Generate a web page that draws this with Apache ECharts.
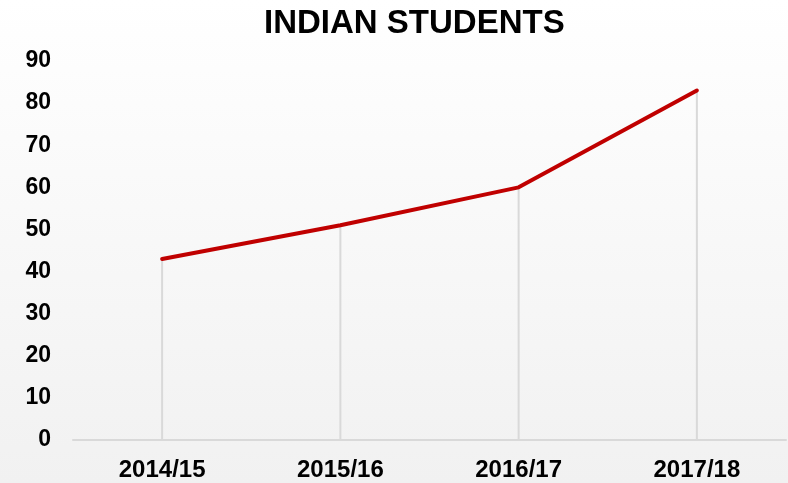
<!DOCTYPE html>
<html>
<head>
<meta charset="utf-8">
<title>Indian Students</title>
<script src="https://cdn.jsdelivr.net/npm/echarts@6/dist/echarts.min.js"></script>
<style>
  html, body { margin: 0; padding: 0; }
  #chart { width: 788px; height: 483px; }
</style>
</head>
<body>
<div id="chart"></div>
<script>
var years = ['2014/15', '2015/16', '2016/17', '2017/18'];
var students = [43, 51, 60, 83];
var yTicks = [0, 10, 20, 30, 40, 50, 60, 70, 80, 90];

var chart = echarts.init(document.getElementById('chart'));

var option = {
  backgroundColor: new echarts.graphic.LinearGradient(0, 0, 0, 1, [
    { offset: 0, color: '#ffffff' },
    { offset: 1, color: '#f1f1f1' }
  ]),
  animation: false,
  title: {
    text: 'INDIAN STUDENTS',
    left: 259,
    top: 2,
    textStyle: {
      fontFamily: 'Liberation Sans, Arial, sans-serif',
      fontSize: 33,
      fontWeight: 'bold',
      color: '#000'
    }
  },
  grid: { left: 73, right: 2, top: 61, bottom: 43 },
  xAxis: {
    type: 'category',
    data: years,
    boundaryGap: true,
    axisLine: { lineStyle: { color: '#d9d9d9', width: 2 } },
    axisTick: { show: false },
    axisLabel: {
      fontFamily: 'Liberation Sans, Arial, sans-serif',
      fontSize: 24,
      fontWeight: 'bold',
      color: '#000',
      margin: 18
    }
  },
  yAxis: {
    type: 'value',
    min: yTicks[0],
    max: yTicks[yTicks.length - 1],
    interval: 10,
    axisLine: { show: false },
    axisTick: { show: false },
    splitLine: { show: false },
    axisLabel: {
      fontFamily: 'Liberation Sans, Arial, sans-serif',
      fontSize: 23,
      fontWeight: 'bold',
      color: '#000',
      margin: 22
    }
  },
  series: [
    {
      // drop lines from each point down to the axis
      type: 'bar',
      data: students,
      barWidth: 2,
      silent: true,
      itemStyle: { color: '#d9d9d9' },
      z: 1
    },
    {
      type: 'line',
      data: students,
      symbol: 'none',
      lineStyle: { color: '#c00000', width: 4, cap: 'round', join: 'round' },
      z: 3
    }
  ]
};

chart.setOption(option);
</script>
</body>
</html>
